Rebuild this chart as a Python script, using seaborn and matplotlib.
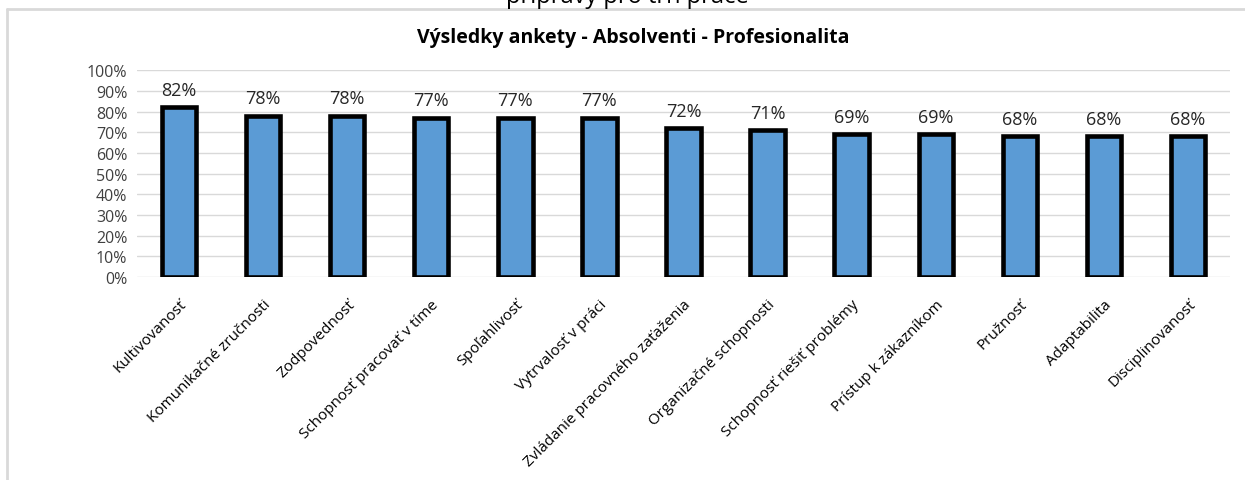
import matplotlib
matplotlib.use("Agg")
import matplotlib.pyplot as plt
import seaborn as sns
import pandas as pd
from matplotlib.lines import Line2D
from matplotlib.ticker import PercentFormatter

# Data
categories = [
    "Kultivovanosť", "Komunikačné zručnosti", "Zodpovednosť",
    "Schopnosť pracovať v tíme", "Spoľahlivosť", "Vytrvalosť v práci",
    "Zvládanie pracovného zaťaženia", "Organizačné schopnosti",
    "Schopnosť riešiť problémy", "Prístup k zákazníkom", "Pružnosť",
    "Adaptabilita", "Disciplinovanosť",
]
values = [0.82, 0.78, 0.78, 0.77, 0.77, 0.77, 0.72, 0.71, 0.69, 0.69, 0.68, 0.68, 0.68]
title = "Výsledky ankety - Absolventi - Profesionalita"
page_text = "přípravy pro trh práce"

df = pd.DataFrame({"skill": categories, "share": values})

sns.set_style("white")
plt.rcParams["font.family"] = ["Open Sans", "DejaVu Sans"]

fig = plt.figure(figsize=(12.45, 4.81), dpi=100)
ax = fig.add_axes([0.110, 0.422, 0.878, 0.430])

sns.barplot(data=df, x="skill", y="share", color="#5B9BD5", edgecolor="black",
            linewidth=3.3, width=0.41, saturation=1, ax=ax)

ax.set_ylim(0, 1)
ax.set_yticks([i / 10 for i in range(11)])
ax.yaxis.set_major_formatter(PercentFormatter(1.0, decimals=0))
ax.grid(axis="y", color="#d9d9d9", linewidth=1)
ax.set_axisbelow(True)
for s in ax.spines.values():
    s.set_visible(False)
ax.tick_params(axis="both", length=0)
ax.tick_params(axis="y", labelsize=11.5, labelcolor="#404040", pad=7)
ax.set_xlabel("")
ax.set_ylabel("")
plt.setp(ax.get_xticklabels(), rotation=45, ha="right", rotation_mode="anchor",
         fontsize=11, color="black")
ax.tick_params(axis="x", pad=14)

ax.bar_label(ax.containers[0], labels=[f"{v:.0%}" for v in values],
             padding=6, fontsize=13, color="#262626")

fig.text(0.509, 0.921, title, ha="center", va="center", fontsize=14,
         fontweight="bold", color="black")
# page caption above the chart, cut off by the top edge as in the screenshot
fig.text(0.504, 1 - 3 / 481, page_text, ha="center", va="baseline", fontsize=17,
         color="black")

# frame of the embedded chart
fig.add_artist(Line2D([7 / 1245, 1], [1 - 10 / 481, 1 - 10 / 481],
                      transform=fig.transFigure, color="#d9d9d9", linewidth=2))
fig.add_artist(Line2D([7 / 1245, 7 / 1245], [0, 1 - 10 / 481],
                      transform=fig.transFigure, color="#d9d9d9", linewidth=2))

fig.savefig("out.png", dpi=100)
